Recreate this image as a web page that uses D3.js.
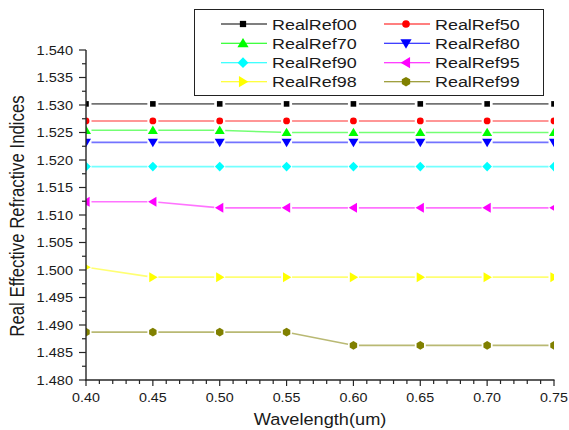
<!DOCTYPE html>
<html>
<head>
<meta charset="utf-8">
<script src="https://cdn.jsdelivr.net/npm/d3@7"></script>
<style>
  html, body { margin: 0; padding: 0; background: #fff; }
  svg { display: block; font-family: "Liberation Sans", Arial, sans-serif; }
</style>
</head>
<body>
<svg id="chart" width="569" height="430"></svg>
<script>
// Wavelength samples (um)
const wavelengths = [0.40, 0.45, 0.50, 0.55, 0.60, 0.65, 0.70, 0.75];

// Real effective refractive index per configuration
const realRef00 = [1.5302, 1.5302, 1.5302, 1.5302, 1.5302, 1.5302, 1.5302, 1.5302];
const realRef50 = [1.5271, 1.5271, 1.5271, 1.5271, 1.5271, 1.5271, 1.5271, 1.5271];
const realRef70 = [1.5254, 1.5254, 1.5254, 1.5250, 1.5250, 1.5250, 1.5250, 1.5250];
const realRef80 = [1.5232, 1.5232, 1.5232, 1.5232, 1.5232, 1.5232, 1.5232, 1.5232];
const realRef90 = [1.5188, 1.5188, 1.5188, 1.5188, 1.5188, 1.5188, 1.5188, 1.5188];
const realRef95 = [1.5124, 1.5124, 1.5113, 1.5113, 1.5113, 1.5113, 1.5113, 1.5113];
const realRef98 = [1.5005, 1.4987, 1.4987, 1.4987, 1.4987, 1.4987, 1.4987, 1.4987];
const realRef99 = [1.4887, 1.4887, 1.4887, 1.4887, 1.4863, 1.4863, 1.4863, 1.4863];

const seriesNames = ["RealRef00", "RealRef50", "RealRef70", "RealRef80",
                     "RealRef90", "RealRef95", "RealRef98", "RealRef99"];
const seriesValues = [realRef00, realRef50, realRef70, realRef80,
                      realRef90, realRef95, realRef98, realRef99];
const seriesColors = ["#000000", "#ff0000", "#00ff00", "#0000ff",
                      "#00ffff", "#ff00ff", "#ffff00", "#808000"];
const seriesMarkers = ["square", "circle", "triUp", "triDown",
                       "diamond", "triLeft", "triRight", "hexagon"];

// Axis ticks
const xTicks = [0.40, 0.45, 0.50, 0.55, 0.60, 0.65, 0.70, 0.75];
const yTicks = [1.480, 1.485, 1.490, 1.495, 1.500, 1.505, 1.510, 1.515,
                1.520, 1.525, 1.530, 1.535, 1.540];

const xLabel = "Wavelength(um)";
const yLabel = "Real Effective Refractive Indices";

const svg = d3.select("#chart");
const plot = { left: 86, right: 554, top: 50, bottom: 380 };

const x = d3.scaleLinear().domain([0.40, 0.75]).range([plot.left, plot.right]);
const y = d3.scaleLinear().domain([1.480, 1.540]).range([plot.bottom, plot.top]);

const axisColor = "#262626";
const textColor = "#1a1a1a";

// Marker shapes
function markerPath(kind) {
  const p = d3.path();
  switch (kind) {
    case "square": { const s = 2.8; p.rect(-s, -s, 2 * s, 2 * s); break; }
    case "circle": { p.arc(0, 0, 3.4, 0, 2 * Math.PI); break; }
    case "triUp":    { p.moveTo(0, -4.8); p.lineTo(5, 3.6); p.lineTo(-5, 3.6); p.closePath(); break; }
    case "triDown":  { p.moveTo(0, 4.8); p.lineTo(5, -3.6); p.lineTo(-5, -3.6); p.closePath(); break; }
    case "triLeft":  { p.moveTo(-4.8, 0); p.lineTo(3.6, -5); p.lineTo(3.6, 5); p.closePath(); break; }
    case "triRight": { p.moveTo(4.8, 0); p.lineTo(-3.6, -5); p.lineTo(-3.6, 5); p.closePath(); break; }
    case "diamond":  { p.moveTo(0, -4.8); p.lineTo(4.8, 0); p.lineTo(0, 4.8); p.lineTo(-4.8, 0); p.closePath(); break; }
    case "hexagon": {
      const r = 4.3;
      for (let i = 0; i < 6; i++) {
        const a = Math.PI / 6 + i * Math.PI / 3;
        const px = r * Math.cos(a), py = r * Math.sin(a);
        if (i === 0) p.moveTo(px, py); else p.lineTo(px, py);
      }
      p.closePath();
      break;
    }
  }
  return p.toString();
}

// Horizontally stretched text helper
function stretchedText(parent, str, tx, ty, size, sx, anchor) {
  return parent.append("text")
    .attr("transform", `translate(${tx},${ty}) scale(${sx},1)`)
    .attr("text-anchor", anchor)
    .attr("font-size", size)
    .attr("fill", textColor)
    .text(str);
}

// Clip marks to plot area
svg.append("defs").append("clipPath").attr("id", "plotClip")
  .append("rect")
  .attr("x", plot.left).attr("y", plot.top - 10)
  .attr("width", plot.right - plot.left).attr("height", plot.bottom - plot.top + 10);

const marks = svg.append("g").attr("clip-path", "url(#plotClip)");
const gap = 5.5;

seriesValues.forEach((vals, si) => {
  const pts = wavelengths.map((w, i) => [x(w), y(vals[i])]);
  const g = marks.append("g");
  // Connecting segments, broken around each marker
  for (let i = 0; i < pts.length - 1; i++) {
    const [x0, y0] = pts[i], [x1, y1] = pts[i + 1];
    const len = Math.hypot(x1 - x0, y1 - y0);
    const ux = (x1 - x0) / len, uy = (y1 - y0) / len;
    g.append("line")
      .attr("x1", x0 + ux * gap).attr("y1", y0 + uy * gap)
      .attr("x2", x1 - ux * gap).attr("y2", y1 - uy * gap)
      .attr("stroke", seriesColors[si])
      .attr("stroke-opacity", 0.55)
      .attr("stroke-width", 1.6);
  }
  g.selectAll("path.mk").data(pts).join("path")
    .attr("class", "mk")
    .attr("transform", d => `translate(${d[0]},${d[1]})`)
    .attr("d", markerPath(seriesMarkers[si]))
    .attr("fill", seriesColors[si]);
});

// Y axis
const yAxisG = svg.append("g");
yAxisG.append("line")
  .attr("x1", plot.left).attr("x2", plot.left)
  .attr("y1", plot.top).attr("y2", plot.bottom + 0.5)
  .attr("stroke", axisColor).attr("stroke-width", 1.4);
const yMinor = d3.range(0, yTicks.length - 1).map(i => (yTicks[i] + yTicks[i + 1]) / 2);
yAxisG.selectAll("line.ymaj").data(yTicks).join("line")
  .attr("x1", plot.left - 7).attr("x2", plot.left)
  .attr("y1", d => y(d)).attr("y2", d => y(d))
  .attr("stroke", axisColor).attr("stroke-width", 1.2);
yAxisG.selectAll("line.ymin").data(yMinor).join("line")
  .attr("x1", plot.left - 4).attr("x2", plot.left)
  .attr("y1", d => y(d)).attr("y2", d => y(d))
  .attr("stroke", axisColor).attr("stroke-width", 1.2);
yTicks.forEach(t => {
  stretchedText(yAxisG, d3.format(".3f")(t), plot.left - 13, y(t) + 4.6, 13, 1.12, "end");
});

// X axis
const xAxisG = svg.append("g");
xAxisG.append("line")
  .attr("x1", plot.left - 0.5).attr("x2", plot.right + 0.5)
  .attr("y1", plot.bottom).attr("y2", plot.bottom)
  .attr("stroke", axisColor).attr("stroke-width", 1.4);
const xMinor = d3.range(41, 75).map(v => v / 100).filter(v => Math.round(v * 100) % 5 !== 0);
xAxisG.selectAll("line.xmaj").data(xTicks).join("line")
  .attr("x1", d => x(d)).attr("x2", d => x(d))
  .attr("y1", plot.bottom).attr("y2", plot.bottom + 6)
  .attr("stroke", axisColor).attr("stroke-width", 1.2);
xAxisG.selectAll("line.xmin").data(xMinor).join("line")
  .attr("x1", d => x(d)).attr("x2", d => x(d))
  .attr("y1", plot.bottom).attr("y2", plot.bottom + 4)
  .attr("stroke", axisColor).attr("stroke-width", 1.2);
xTicks.forEach(t => {
  stretchedText(xAxisG, d3.format(".2f")(t), x(t), 401.5, 13, 1.1, "middle");
});

// Axis titles
stretchedText(svg, xLabel, 320, 425, 17, 1.07, "middle");

svg.append("text")
  .attr("transform", `translate(24,${(plot.top + plot.bottom) / 2 + 1}) rotate(-90) scale(1,1.2)`)
  .attr("text-anchor", "middle")
  .attr("font-size", 16.8)
  .attr("fill", textColor)
  .text(yLabel);

// Legend
const legend = svg.append("g");
legend.append("rect")
  .attr("x", 194.5).attr("y", 9.5).attr("width", 349).attr("height", 86)
  .attr("fill", "#fff").attr("stroke", "#222").attr("stroke-width", 1);
const rowY = [24, 43.3, 62.7, 81.7];
const colX = [221, 384];
seriesNames.forEach((name, i) => {
  const cx = colX[i % 2], cy = rowY[Math.floor(i / 2)];
  legend.append("line")
    .attr("x1", cx).attr("x2", cx + 46)
    .attr("y1", cy).attr("y2", cy)
    .attr("stroke", seriesColors[i]).attr("stroke-width", 1.1);
  legend.append("path")
    .attr("transform", `translate(${cx + 22},${cy}) scale(1.12)`)
    .attr("d", markerPath(seriesMarkers[i]))
    .attr("fill", seriesColors[i]);
  stretchedText(legend, name, cx + 51, cy + 5.6, 15.2, 1.18, "start");
});
</script>
</body>
</html>
